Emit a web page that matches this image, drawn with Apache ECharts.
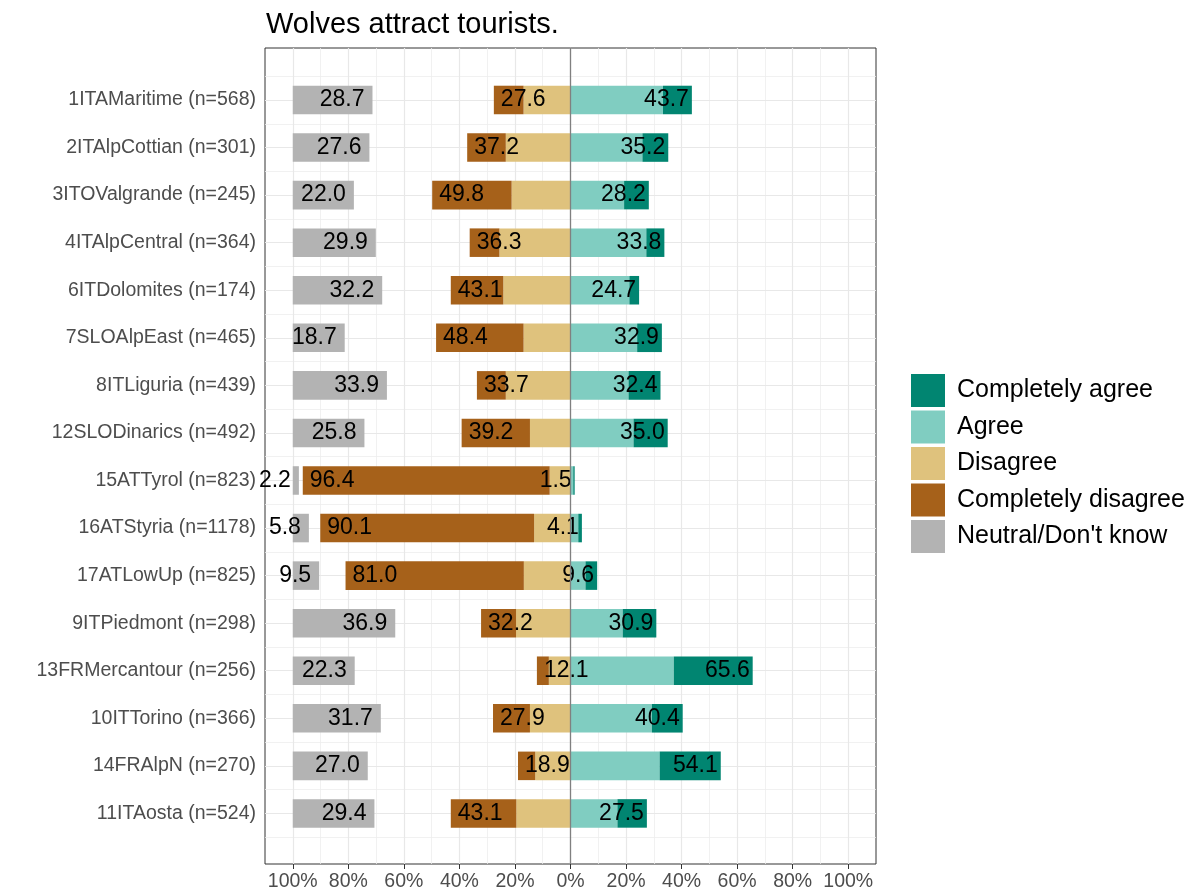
<!DOCTYPE html>
<html><head><meta charset="utf-8">
<script src="https://cdn.jsdelivr.net/npm/echarts@6/dist/echarts.min.js"></script>
<style>html,body{margin:0;padding:0;background:#fff}#c{width:1195px;height:894px}</style>
</head><body><div id="c"></div>
<script>
// ---- data ----
const categories = [
  '1ITAMaritime (n=568)', '2ITAlpCottian (n=301)', '3ITOValgrande (n=245)', '4ITAlpCentral (n=364)',
  '6ITDolomites (n=174)', '7SLOAlpEast (n=465)', '8ITLiguria (n=439)', '12SLODinarics (n=492)',
  '15ATTyrol (n=823)', '16ATStyria (n=1178)', '17ATLowUp (n=825)', '9ITPiedmont (n=298)',
  '13FRMercantour (n=256)', '10ITTorino (n=366)', '14FRAlpN (n=270)', '11ITAosta (n=524)'
];
const neutral            = [28.7, 27.6, 22.0, 29.9, 32.2, 18.7, 33.9, 25.8, 2.2, 5.8, 9.5, 36.9, 22.3, 31.7, 27.0, 29.4];
const disagree           = [16.9, 23.3, 21.2, 25.6, 24.2, 16.9, 23.3, 14.6, 7.5, 13.1, 16.8, 19.6, 7.8, 14.6, 12.7, 19.5];
const completelyDisagree = [10.7, 13.9, 28.6, 10.7, 18.9, 31.5, 10.4, 24.6, 88.9, 77.0, 64.2, 12.6, 4.3, 13.3, 6.2, 23.6];
const agree              = [33.3, 25.9, 19.3, 27.3, 21.2, 24.0, 20.9, 22.7, 1.0, 2.8, 5.4, 18.8, 37.2, 29.3, 32.1, 16.9];
const completelyAgree    = [10.4, 9.3, 8.9, 6.5, 3.5, 8.9, 11.5, 12.3, 0.5, 1.3, 4.2, 12.1, 28.4, 11.1, 22.0, 10.6];
const xTicks = [-100, -80, -60, -40, -20, 0, 20, 40, 60, 80, 100];
const legendNames = ['Completely agree', 'Agree', 'Disagree', 'Completely disagree', "Neutral/Don't know"];
const colors = {
  'Completely agree': '#018571', 'Agree': '#80CDC1', 'Disagree': '#DFC27D',
  'Completely disagree': '#A6611A', "Neutral/Don't know": '#B3B3B3'
};

// ---- layout ----
const FONT = '"Liberation Sans", Arial, sans-serif';
const PL = 265, PT = 48, PW = 611, PH = 816;
const XMIN = -110, XMAX = 110;
const pxPer = PW / (XMAX - XMIN);

const lowTotal = disagree.map((v, i) => v + completelyDisagree[i]);
const highTotal = agree.map((v, i) => v + completelyAgree[i]);

const labelBase = { show: true, color: '#000', fontSize: 23, fontFamily: FONT };

const option = {
  animation: false,
  backgroundColor: '#fff',
  title: {
    text: 'Wolves attract tourists.', left: PL - 4, top: 5,
    textStyle: { fontSize: 29, fontWeight: 'normal', color: '#000', fontFamily: FONT }
  },
  legend: {
    orient: 'vertical', left: 906, top: 369,
    itemWidth: 34, itemHeight: 33, itemGap: 3.5, icon: 'rect',
    data: legendNames,
    textStyle: { fontSize: 25, color: '#000', fontFamily: FONT, lineHeight: 33, padding: [0, 0, 0, 7] }
  },
  grid: [
    { left: PL, top: PT, width: PW, height: PH, show: true, borderColor: '#333333', borderWidth: 1, backgroundColor: 'transparent' },
    { left: PL, top: 76.2, width: PW, height: 761 },
    { left: PL + (-100 - XMIN) * pxPer, top: PT, width: 200 * pxPer, height: PH }
  ],
  xAxis: [
    { gridIndex: 0, type: 'value', min: XMIN, max: XMAX, interval: 10,
      axisLabel: { show: false }, axisTick: { show: false }, axisLine: { show: false },
      splitLine: { show: true, showMinLine: false, showMaxLine: false, lineStyle: { color: '#EEEEEE', width: 0.8 } } },
    { gridIndex: 1, type: 'value', min: XMIN, max: XMAX, show: false },
    { gridIndex: 2, type: 'value', min: xTicks[0], max: xTicks[xTicks.length - 1], interval: 20,
      axisLine: { show: false },
      axisTick: { show: true, length: 5, lineStyle: { color: '#333333' } },
      axisLabel: { color: '#4D4D4D', fontSize: 19.5, fontFamily: FONT, margin: 8,
                   formatter: v => Math.abs(v) + '%' },
      splitLine: { show: true, lineStyle: { color: '#E8E8E8', width: 1.2 } } }
  ],
  yAxis: [
    { gridIndex: 0, type: 'value', min: 0, max: 1, show: false },
    { gridIndex: 1, type: 'category', data: categories, inverse: true, position: 'left',
      axisLine: { show: false },
      axisTick: { show: true, alignWithLabel: true, length: 5, lineStyle: { color: '#333333' } },
      axisLabel: { color: '#4D4D4D', fontSize: 19.5, fontFamily: FONT, margin: 9 },
      splitLine: { show: true, lineStyle: { color: '#EEEEEE', width: 0.8 } } },
    { gridIndex: 1, type: 'category', data: categories, inverse: true, position: 'right',
      axisLine: { show: false }, axisLabel: { show: false }, splitLine: { show: false },
      axisTick: { show: true, inside: true, alignWithLabel: true, length: PW, lineStyle: { color: '#E8E8E8', width: 1.2 } } },
    { gridIndex: 2, type: 'value', show: false }
  ],
  series: [
    { name: 'zero', type: 'line', xAxisIndex: 0, yAxisIndex: 0, data: [], z: 10, silent: true,
      markLine: { silent: true, symbol: ['none', 'none'], label: { show: false },
        lineStyle: { color: '#808080', width: 1.3, type: 'solid' }, data: [{ xAxis: 0 }] } },
    { name: 'Disagree', type: 'bar', stack: 'likert', xAxisIndex: 1, yAxisIndex: 1,
      barWidth: '60%', barGap: '-100%', itemStyle: { color: colors['Disagree'] },
      data: disagree.map(v => -v) },
    { name: 'Completely disagree', type: 'bar', stack: 'likert', xAxisIndex: 1, yAxisIndex: 1,
      barWidth: '60%', barGap: '-100%', itemStyle: { color: colors['Completely disagree'] },
      label: Object.assign({}, labelBase, { position: 'insideLeft', distance: 7,
        formatter: p => lowTotal[p.dataIndex].toFixed(1) }),
      data: completelyDisagree.map(v => -v) },
    { name: 'Agree', type: 'bar', stack: 'likert', xAxisIndex: 1, yAxisIndex: 1,
      barWidth: '60%', barGap: '-100%', itemStyle: { color: colors['Agree'] },
      data: agree },
    { name: 'Completely agree', type: 'bar', stack: 'likert', xAxisIndex: 1, yAxisIndex: 1,
      barWidth: '60%', barGap: '-100%', itemStyle: { color: colors['Completely agree'] },
      label: Object.assign({}, labelBase, { position: 'insideRight', distance: 3,
        formatter: p => highTotal[p.dataIndex].toFixed(1) }),
      data: completelyAgree },
    { name: 'neutralBase', type: 'bar', stack: 'neutral', xAxisIndex: 1, yAxisIndex: 1,
      barWidth: '60%', barGap: '-100%', silent: true, itemStyle: { color: 'rgba(0,0,0,0)' },
      data: neutral.map(v => -(100 - v)) },
    { name: "Neutral/Don't know", type: 'bar', stack: 'neutral', xAxisIndex: 1, yAxisIndex: 1,
      barWidth: '60%', barGap: '-100%', itemStyle: { color: colors["Neutral/Don't know"] },
      label: Object.assign({}, labelBase, { position: 'insideRight', distance: 8,
        formatter: p => neutral[p.dataIndex].toFixed(1) }),
      data: neutral.map(v => -v) }
  ]
};
const chart = echarts.init(document.getElementById('c'), null, { renderer: 'canvas' });
chart.setOption(option);
</script>
</body></html>
